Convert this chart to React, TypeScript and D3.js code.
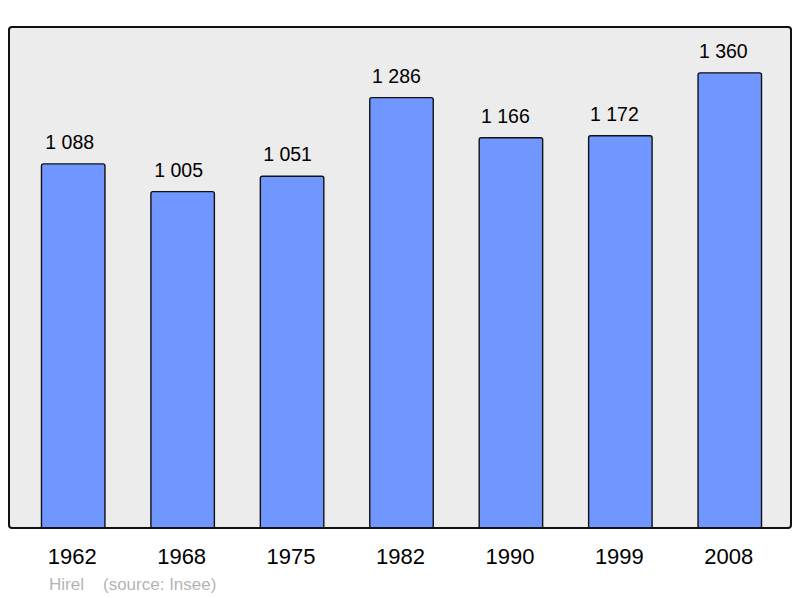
import React from "react";
import * as d3 from "d3";

const years = ["1962", "1968", "1975", "1982", "1990", "1999", "2008"];
const population = [1088, 1005, 1051, 1286, 1166, 1172, 1360];
const valueLabels = ["1 088", "1 005", "1 051", "1 286", "1 166", "1 172", "1 360"];
const commune = "Hirel";
const sourceText = "(source: Insee)";

export default function App() {
  const W = 800;
  const H = 598;
  const frame = { x0: 9, y0: 27, x1: 791, y1: 528 };
  const x = d3
    .scaleBand<string>()
    .domain(years)
    .range([18.5, 784.5])
    .paddingInner(0.42)
    .paddingOuter(0.21);
  const y = d3.scaleLinear().domain([0, 1500]).range([frame.y1, 26]);
  // value labels sit slightly left of bar centres in the reference
  const labelX = d3.scaleLinear().domain([73, 730]).range([69.5, 723.5]);
  const font = "'Liberation Sans', Arial, sans-serif";

  const barPath = (x0: number, y0: number, w: number, y1: number, r: number) =>
    `M${x0},${y1}V${y0 + r}Q${x0},${y0} ${x0 + r},${y0}H${x0 + w - r}Q${x0 + w},${y0} ${x0 + w},${y0 + r}V${y1}`;

  return (
    <svg
      width={W}
      height={H}
      style={{ position: "absolute", left: 0, top: 0, display: "block", background: "#fff" }}
    >
      <rect
        x={frame.x0}
        y={frame.y0}
        width={frame.x1 - frame.x0}
        height={frame.y1 - frame.y0}
        rx={3}
        fill="#ececec"
        stroke="none"
      />
      {years.map((yr, i) => {
        const bx = x(yr) as number;
        const bw = x.bandwidth();
        const top = y(population[i]);
        const cx = bx + bw / 2;
        return (
          <g key={yr}>
            <path
              d={barPath(bx, top, bw, frame.y1, 2) + "Z"}
              fill="#7096ff"
              stroke="none"
            />
            <path
              d={barPath(bx, top, bw, frame.y1, 2)}
              fill="none"
              stroke="#111"
              strokeWidth={1.4}
            />
            <text
              x={labelX(cx)}
              y={top - 15}
              textAnchor="middle"
              fontFamily={font}
              fontSize={19.5}
              fill="#000"
            >
              {valueLabels[i]}
            </text>
            <text
              x={cx - 1}
              y={564}
              textAnchor="middle"
              fontFamily={font}
              fontSize={22}
              fill="#000"
            >
              {yr}
            </text>
          </g>
        );
      })}
      <rect
        x={frame.x0}
        y={frame.y0}
        width={frame.x1 - frame.x0}
        height={frame.y1 - frame.y0}
        rx={3}
        fill="none"
        stroke="#111"
        strokeWidth={2}
      />
      <text x={49} y={590} fontFamily={font} fontSize={17} fill="#b4b4b4">
        {commune}
      </text>
      <text x={103} y={590} fontFamily={font} fontSize={17} fill="#b4b4b4">
        {sourceText}
      </text>
    </svg>
  );
}
